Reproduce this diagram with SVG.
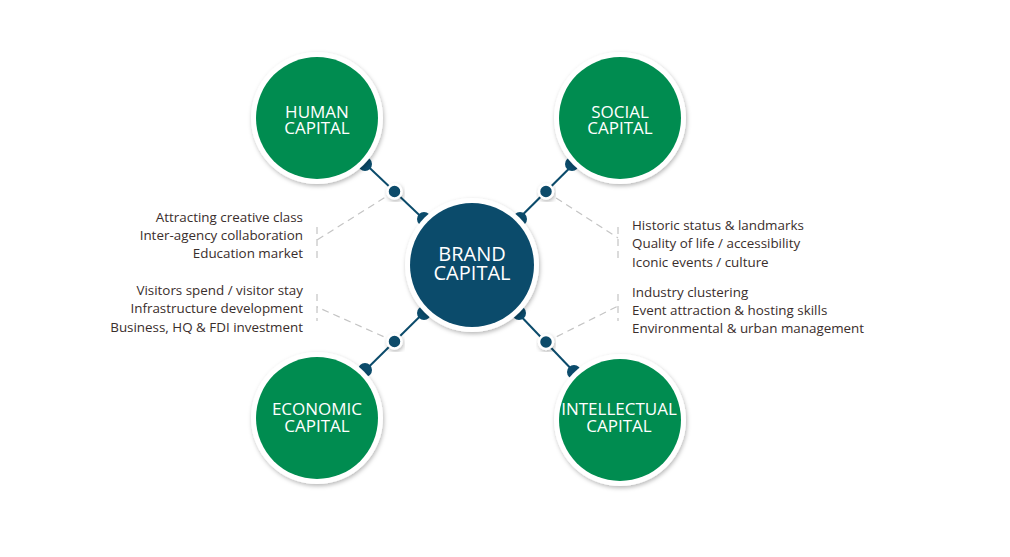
<svg xmlns="http://www.w3.org/2000/svg" width="1010" height="557" viewBox="0 0 1010 557">
<defs>
<filter id="sh" x="-20%" y="-20%" width="140%" height="140%">
<feDropShadow dx="1" dy="2" stdDeviation="2" flood-color="#000" flood-opacity="0.28"/>
</filter>
<style>
.ring{fill:#fff;filter:url(#sh)}
.green{fill:#008C50}
.blue{fill:#0B4B6B}
.lab{font-family:"Open Sans",sans-serif;font-size:17px;fill:#fff;text-anchor:middle}
.blab{font-family:"Open Sans",sans-serif;font-size:20px;fill:#fff;text-anchor:middle}
.txt{font-family:"Open Sans",sans-serif;font-size:13.4px;fill:#3a2e2c}
.r{text-anchor:end}
.conn{stroke:#0B4B6B;stroke-width:2;fill:none}
.dash{stroke:#c4c4c4;stroke-width:1.2;fill:none;stroke-dasharray:7 5}
.bump{fill:#0B4B6B}
.dot{fill:#0B4B6B;stroke:#fff;stroke-width:2.5;filter:url(#sh)}
</style>
</defs>
<rect width="1010" height="557" fill="#fff"/>
<g id="connectors">
<line class="conn" x1="317" y1="118" x2="472" y2="265"/>
<line class="conn" x1="620" y1="118" x2="472" y2="265"/>
<line class="conn" x1="317" y1="418" x2="472" y2="265"/>
<line class="conn" x1="620" y1="420" x2="472" y2="265"/>
<polyline class="dash" points="394.5,191.5 317,240"/>
<line class="dash" x1="317" y1="227" x2="317" y2="261"/>
<polyline class="dash" points="394.5,341.5 317,307"/>
<line class="dash" x1="317" y1="294" x2="317" y2="321"/>
<polyline class="dash" points="546,191.5 618,238"/>
<line class="dash" x1="618" y1="227" x2="618" y2="259"/>
<polyline class="dash" points="546,342 618,306"/>
<line class="dash" x1="618" y1="294" x2="618" y2="321"/>
<circle class="bump" cx="365" cy="164" r="7"/>
<circle class="bump" cx="424" cy="219" r="7"/>
<circle class="bump" cx="572" cy="164" r="7"/>
<circle class="bump" cx="520" cy="219" r="7"/>
<circle class="bump" cx="365" cy="370" r="7"/>
<circle class="bump" cx="424" cy="313" r="7"/>
<circle class="bump" cx="574" cy="372" r="7"/>
<circle class="bump" cx="519" cy="313" r="7"/>
<circle class="dot" cx="394.5" cy="191.5" r="7"/>
<circle class="dot" cx="546" cy="191.5" r="7"/>
<circle class="dot" cx="394.5" cy="341.5" r="7"/>
<circle class="dot" cx="546" cy="342" r="7"/>
</g>
<g id="human">
<circle class="ring" cx="317" cy="118" r="66"/>
<circle class="green" cx="317" cy="118" r="61"/>
<text class="lab" x="317" y="118">HUMAN</text>
<text class="lab" x="317" y="134">CAPITAL</text>
</g>
<g id="social">
<circle class="ring" cx="620" cy="118" r="66"/>
<circle class="green" cx="620" cy="118" r="61"/>
<text class="lab" x="620" y="118">SOCIAL</text>
<text class="lab" x="620" y="134">CAPITAL</text>
</g>
<g id="economic">
<circle class="ring" cx="317" cy="418" r="66"/>
<circle class="green" cx="317" cy="418" r="61"/>
<text class="lab" x="317" y="415">ECONOMIC</text>
<text class="lab" x="317" y="432">CAPITAL</text>
</g>
<g id="intellectual">
<circle class="ring" cx="620" cy="420" r="66"/>
<circle class="green" cx="620" cy="420" r="61"/>
<text class="lab" x="619" y="415">INTELLECTUAL</text>
<text class="lab" x="619" y="432">CAPITAL</text>
</g>
<g id="brand">
<circle class="ring" cx="472" cy="265" r="67"/>
<circle class="blue" cx="472" cy="265" r="62"/>
<text class="blab" x="472" y="261">BRAND</text>
<text class="blab" x="472" y="280">CAPITAL</text>
</g>
<g id="text-human">
<text class="txt r" x="303" y="222">Attracting creative class</text>
<text class="txt r" x="303" y="240">Inter-agency collaboration</text>
<text class="txt r" x="303" y="258">Education market</text>
</g>
<g id="text-economic">
<text class="txt r" x="303" y="295">Visitors spend / visitor stay</text>
<text class="txt r" x="303" y="313">Infrastructure development</text>
<text class="txt r" x="303" y="332">Business, HQ &amp; FDI investment</text>
</g>
<g id="text-social">
<text class="txt" x="632" y="230">Historic status &amp; landmarks</text>
<text class="txt" x="632" y="248">Quality of life / accessibility</text>
<text class="txt" x="632" y="267">Iconic events / culture</text>
</g>
<g id="text-intellectual">
<text class="txt" x="632" y="297">Industry clustering</text>
<text class="txt" x="632" y="315">Event attraction &amp; hosting skills</text>
<text class="txt" x="632" y="333">Environmental &amp; urban management</text>
</g>
</svg>
